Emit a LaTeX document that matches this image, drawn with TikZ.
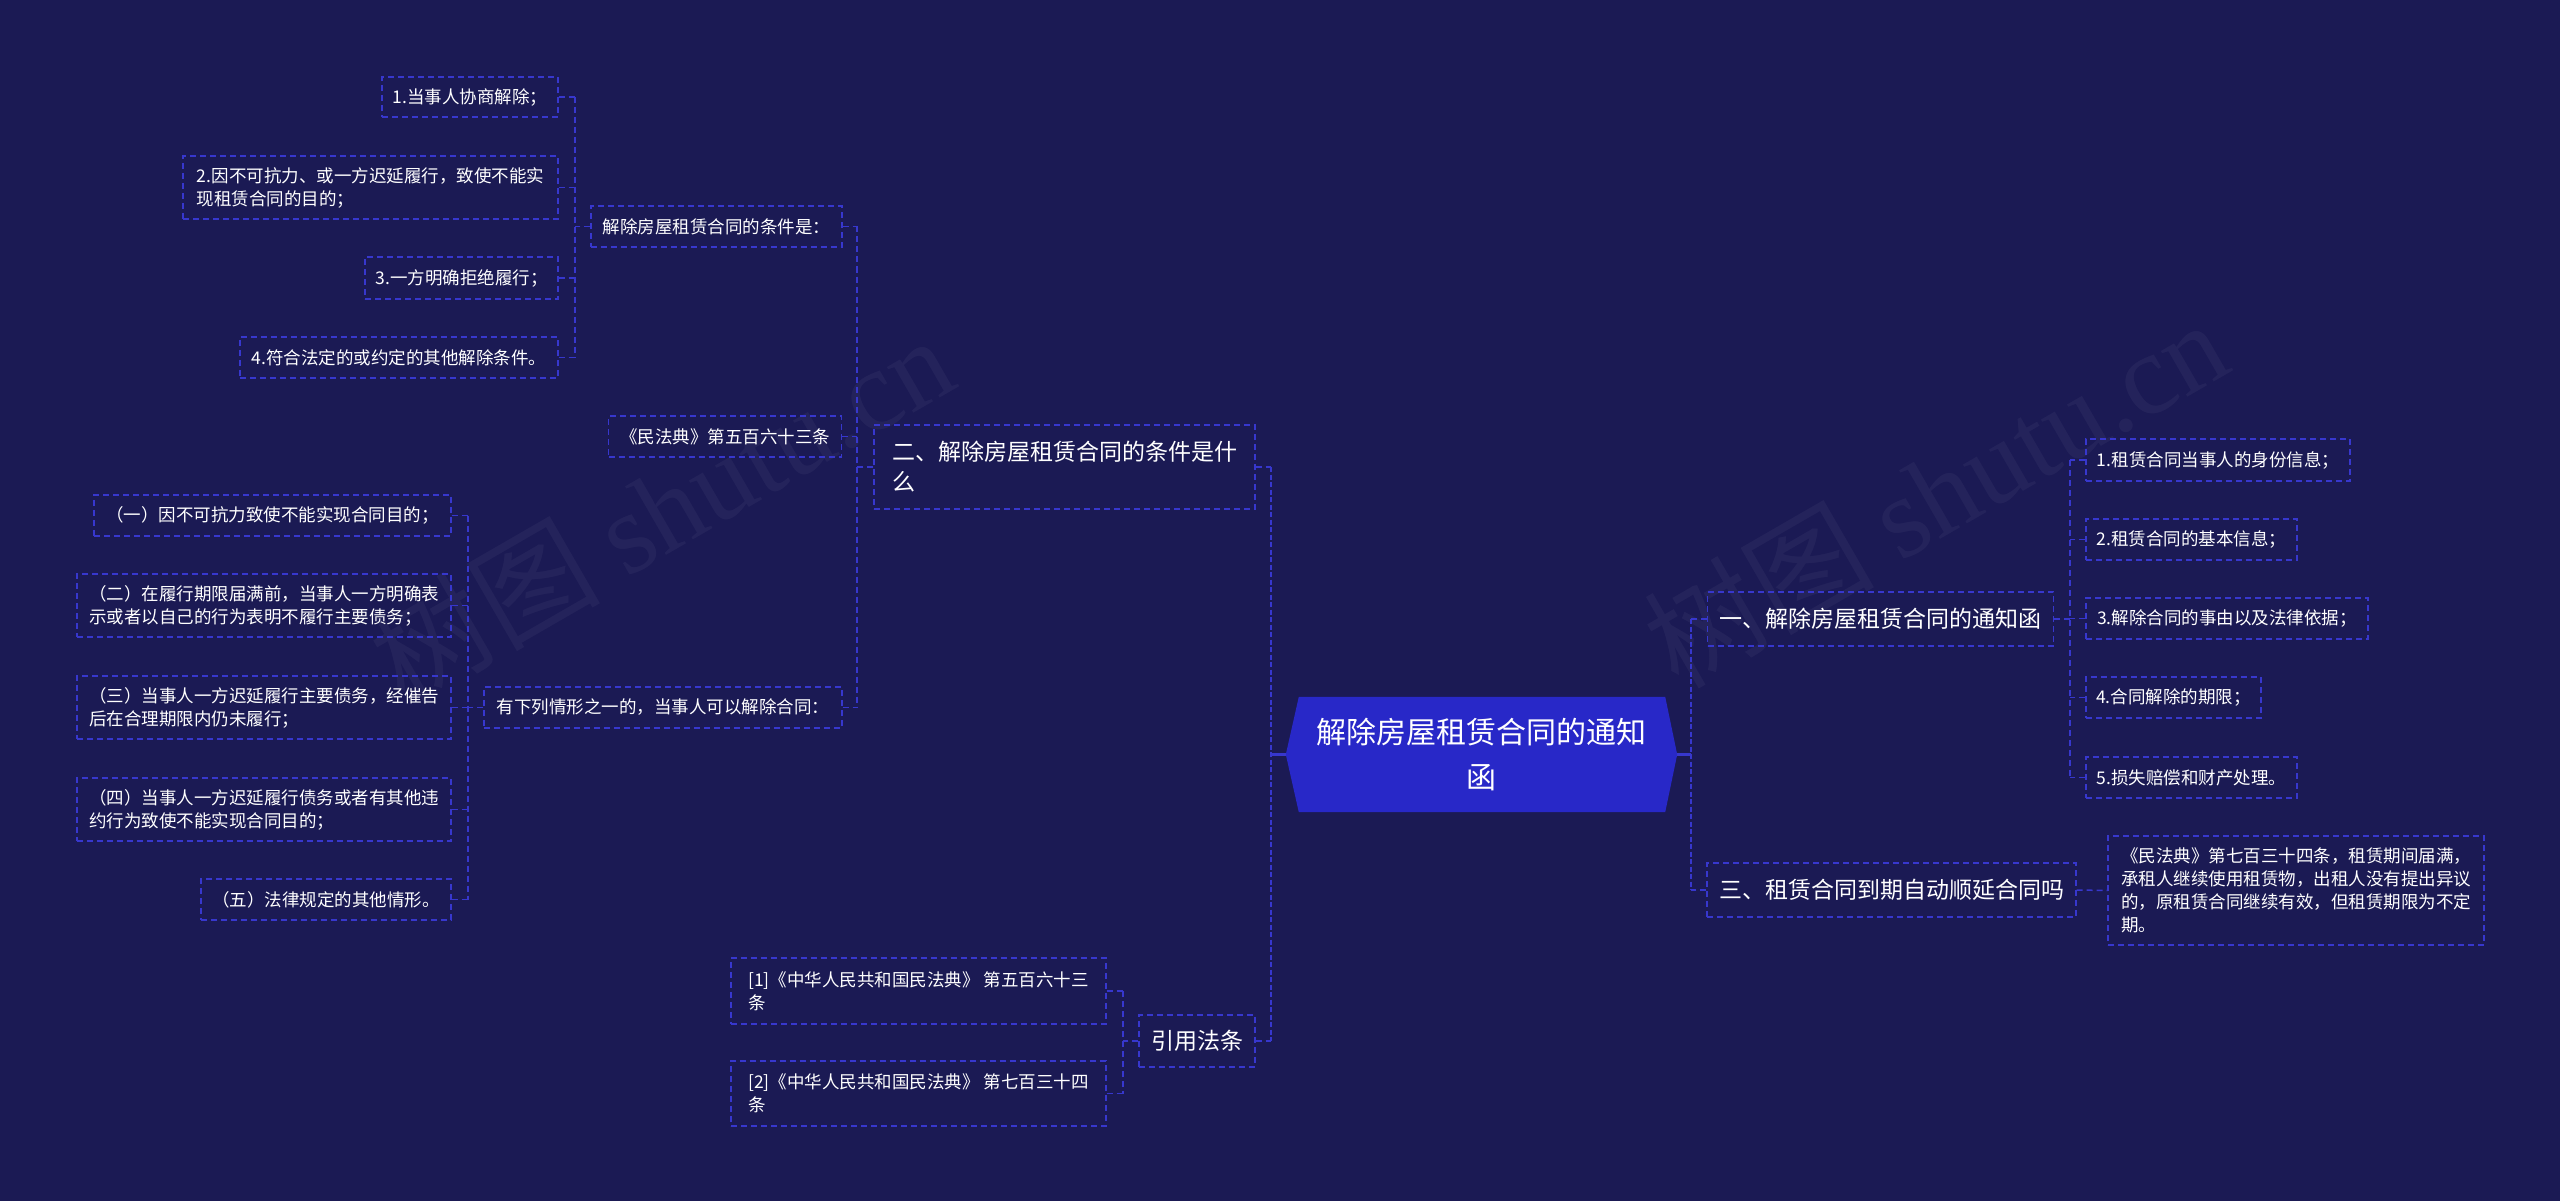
\documentclass[tikz,border=0pt]{standalone}
\usepackage{fontspec}
\setmainfont{Noto Sans CJK SC}
\newfontfamily\wmserif{Liberation Serif}
\usetikzlibrary{calc}
\definecolor{bgc}{RGB}{27,26,84}
\definecolor{linec}{RGB}{55,55,205}
\definecolor{rootc}{RGB}{40,40,200}
\pgfdeclarelayer{bglayer}
\pgfsetlayers{bglayer,main}
\begin{document}
\begin{tikzpicture}[x=1pt,y=-1pt,
 leaf/.style={draw=linec, line width=1.3pt, dash pattern=on 6pt off 4pt, text=white,
   font=\fontsize{17.5}{23}\selectfont, inner xsep=10pt, inner ysep=0pt, align=left, minimum height=41pt},
 topic/.style={leaf, font=\fontsize{23}{30}\selectfont, inner xsep=12pt, minimum height=54pt},
 sublink/.style={draw=linec, line width=1.5pt, dash pattern=on 6pt off 4pt},
 mainlink/.style={draw=linec, line width=2.5pt, dash pattern=on 5pt off 2.5pt},
 rootstub/.style={draw=linec, line width=2.5pt},
 wm/.style={text=white, text opacity=0.045, rotate=30, font=\fontsize{115}{115}\selectfont}
]
\useasboundingbox (0,0) rectangle (2560,1201);

% ---------- root ----------
\node[text=white, font=\fontsize{30}{45}\selectfont, align=center, minimum width=391pt,
      minimum height=115pt, inner sep=0pt] (root) at (1481.5,754.5) {解除房屋租赁合同的通知\\函};

% ---------- level 1 ----------
\node[topic, minimum width=381pt, minimum height=84pt] (n2) at (1064.5,467) {二、解除房屋租赁合同的条件是什\\么};
\node[topic, minimum width=116pt, minimum height=52pt] (nyin) at (1197,1041) {引用法条};
\node[topic, minimum width=345pt] (n1) at (1880.5,619) {一、解除房屋租赁合同的通知函};
\node[topic, minimum width=367pt] (n3) at (1891.5,890) {三、租赁合同到期自动顺延合同吗};

% ---------- under n2 ----------
\node[leaf, minimum width=251pt] (a) at (716.5,226.5) {解除房屋租赁合同的条件是：};
\node[leaf, minimum width=233pt] (b) at (725,436.5) {《民法典》第五百六十三条};
\node[leaf, minimum width=358pt] (c) at (663,707.5) {有下列情形之一的，当事人可以解除合同：};

\node[leaf, minimum width=176pt, minimum height=40pt] (a1) at (470,97) {1.当事人协商解除；};
\node[leaf, minimum width=375pt, minimum height=63pt] (a2) at (370.5,187.5) {2.因不可抗力、或一方迟延履行，致使不能实\\现租赁合同的目的；};
\node[leaf, minimum width=193pt, minimum height=42pt] (a3) at (461.5,278) {3.一方明确拒绝履行；};
\node[leaf, minimum width=318pt] (a4) at (399,357.5) {4.符合法定的或约定的其他解除条件。};

\node[leaf, minimum width=357pt] (c1) at (272.5,515.5) {（一）因不可抗力致使不能实现合同目的；};
\node[leaf, minimum width=374pt, minimum height=63pt] (c2) at (264,605.5) {（二）在履行期限届满前，当事人一方明确表\\示或者以自己的行为表明不履行主要债务；};
\node[leaf, minimum width=374pt, minimum height=63pt] (c3) at (264,707.5) {（三）当事人一方迟延履行主要债务，经催告\\后在合理期限内仍未履行；};
\node[leaf, minimum width=374pt, minimum height=63pt] (c4) at (264,809.5) {（四）当事人一方迟延履行债务或者有其他违\\约行为致使不能实现合同目的；};
\node[leaf, minimum width=250pt] (c5) at (326,899.5) {（五）法律规定的其他情形。};

% ---------- under 引用法条 ----------
\node[leaf, minimum width=375pt, minimum height=66pt] (r1) at (918.5,991) {[1]《中华人民共和国民法典》 第五百六十三\\条};
\node[leaf, minimum width=375pt, minimum height=65pt] (r2) at (918.5,1093.5) {[2]《中华人民共和国民法典》 第七百三十四\\条};

% ---------- under n1 ----------
\node[leaf, minimum width=264pt, minimum height=42pt] (b1) at (2218,460) {1.租赁合同当事人的身份信息；};
\node[leaf, minimum width=211pt] (b2) at (2191.5,539.5) {2.租赁合同的基本信息；};
\node[leaf, minimum width=282pt] (b3) at (2227,618.5) {3.解除合同的事由以及法律依据；};
\node[leaf, minimum width=175pt] (b4) at (2173.5,697.5) {4.合同解除的期限；};
\node[leaf, minimum width=211pt] (b5) at (2191.5,777.5) {5.损失赔偿和财产处理。};

% ---------- under n3 ----------
\node[leaf, minimum width=376pt, minimum height=109pt] (d1) at (2296,890.5) {《民法典》第七百三十四条，租赁期间届满，\\承租人继续使用租赁物，出租人没有提出异议\\的，原租赁合同继续有效，但租赁期限为不定\\期。};

% ---------- background layer ----------
\begin{pgfonlayer}{bglayer}
\fill[bgc] (0,0) rectangle (2560,1201);
\node[wm] (wm1) at (661,508) {树图 {\wmserif shutu.cn}};
\node[wm] (wm2) at (1935,492) {树图 {\wmserif shutu.cn}};
\fill[rootc] (root.west) -- ([xshift=13pt]root.north west) -- ([xshift=-12pt]root.north east)
  -- (root.east) -- ([xshift=-12pt]root.south east) -- ([xshift=13pt]root.south west) -- cycle;
\end{pgfonlayer}

% ---------- trunk coordinates ----------
\coordinate (tl) at (1271,0);
\coordinate (tr) at (1691,0);
\coordinate (t2) at (857,0);
\coordinate (ta) at (575,0);
\coordinate (tc) at (468,0);
\coordinate (ty) at (1123,0);
\coordinate (t1) at (2070,0);
\coordinate (t3) at (2092,0);

% root connectors
\draw[rootstub] (root.west) -- (root.west -| tl);
\draw[mainlink] (n2.east -| tl) -- (nyin.east -| tl);
\draw[sublink] (n2.east) -- (n2.east -| tl);
\draw[sublink] (nyin.east) -- (nyin.east -| tl);
\draw[rootstub] (root.east) -- (root.east -| tr);
\draw[mainlink] (n1.west -| tr) -- (n3.west -| tr);
\draw[sublink] (n1.west) -- (n1.west -| tr);
\draw[sublink] (n3.west) -- (n3.west -| tr);

% n2 children
\draw[sublink] (n2.west) -- (n2.west -| t2);
\draw[sublink] (a.east -| t2) -- (c.east -| t2);
\foreach \k in {a,b,c} \draw[sublink] (\k.east) -- (\k.east -| t2);

% a children
\draw[sublink] (a.west) -- (a.west -| ta);
\draw[sublink] (a1.east -| ta) -- (a4.east -| ta);
\foreach \k in {a1,a2,a3,a4} \draw[sublink] (\k.east) -- (\k.east -| ta);

% c children
\draw[sublink] (c.west) -- (c.west -| tc);
\draw[sublink] (c1.east -| tc) -- (c5.east -| tc);
\foreach \k in {c1,c2,c3,c4,c5} \draw[sublink] (\k.east) -- (\k.east -| tc);

% 引用法条 children
\draw[sublink] (nyin.west) -- (nyin.west -| ty);
\draw[sublink] (r1.east -| ty) -- (r2.east -| ty);
\foreach \k in {r1,r2} \draw[sublink] (\k.east) -- (\k.east -| ty);

% n1 children
\draw[sublink] (n1.east) -- (n1.east -| t1);
\draw[sublink] (b1.west -| t1) -- (b5.west -| t1);
\foreach \k in {b1,b2,b3,b4,b5} \draw[sublink] (\k.west) -- (\k.west -| t1);

% n3 child
\draw[sublink] (n3.east) -- (d1.west);
\end{tikzpicture}
\end{document}
